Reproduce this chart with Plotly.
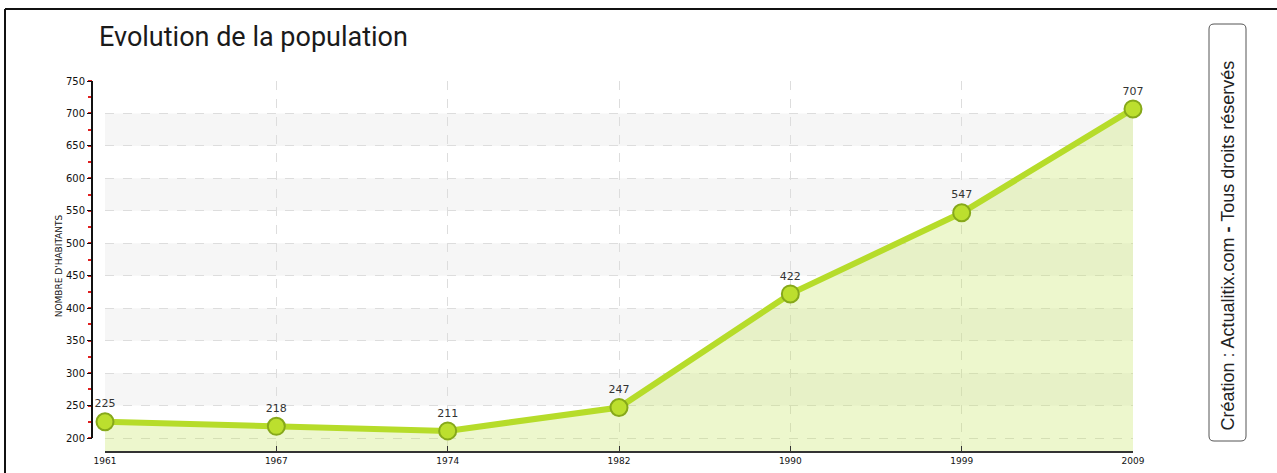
import plotly.graph_objects as go

years = ["1961", "1967", "1974", "1982", "1990", "1999", "2009"]
population = [225, 218, 211, 247, 422, 547, 707]
y_ticks = [200, 250, 300, 350, 400, 450, 500, 550, 600, 650, 700, 750]

W, H = 1277, 473
x_idx = list(range(len(years)))

fig = go.Figure()

fig.add_trace(go.Scatter(
    x=x_idx, y=population,
    mode="lines+markers+text",
    text=[str(v) for v in population],
    textposition="top center",
    textfont=dict(family="DejaVu Sans", size=11, color="#333333"),
    line=dict(color="#b6dc2a", width=6),
    marker=dict(size=17, color="#bcdf2e", line=dict(color="#86a81a", width=2)),
    fill="tozeroy",
    fillcolor="rgba(195,228,90,0.30)",
    cliponaxis=False,
    hoverinfo="skip",
))

shapes = []
# alternating background bands
for i in range(1, len(y_ticks) - 1, 2):
    shapes.append(dict(type="rect", xref="x", yref="y", x0=0, x1=len(years) - 1,
                       y0=y_ticks[i], y1=y_ticks[i + 1], fillcolor="#f6f6f6",
                       line=dict(width=0), layer="below"))
# y axis line (from first to last tick)
shapes.append(dict(type="line", xref="paper", yref="y", x0=92 / W, x1=92 / W,
                   y0=y_ticks[0], y1=y_ticks[-1], line=dict(color="#111111", width=2)))
# outer frame (top and left)
shapes.append(dict(type="line", xref="paper", yref="paper", x0=5 / W, x1=1.0,
                   y0=1 - 9 / H, y1=1 - 9 / H, line=dict(color="#111111", width=2)))
shapes.append(dict(type="line", xref="paper", yref="paper", x0=5 / W, x1=5 / W,
                   y0=0, y1=1 - 9 / H, line=dict(color="#111111", width=2)))
# credit box (rounded)
bx0, bx1 = 1209 / W, 1246 / W
by0, by1 = 1 - 441 / H, 1 - 24 / H
rx, ry = 5 / W, 5 / H
path = (f"M {bx0+rx},{by1} L {bx1-rx},{by1} Q {bx1},{by1} {bx1},{by1-ry} "
        f"L {bx1},{by0+ry} Q {bx1},{by0} {bx1-rx},{by0} L {bx0+rx},{by0} "
        f"Q {bx0},{by0} {bx0},{by0+ry} L {bx0},{by1-ry} Q {bx0},{by1} {bx0+rx},{by1} Z")
shapes.append(dict(type="path", xref="paper", yref="paper", path=path,
                   line=dict(color="#555555", width=1), fillcolor="rgba(0,0,0,0)"))

annotations = [
    dict(text="Evolution de la population", xref="paper", yref="paper",
         x=97 / W, y=1 - 37 / H, xanchor="left", yanchor="middle", showarrow=False,
         font=dict(family="Roboto, sans-serif", size=27, color="#1a1a1a")),
    dict(text="Création : Actualitix.com <b>-</b> Tous droits réservés", xref="paper", yref="paper",
         x=(bx0 + bx1) / 2, y=1 - 246 / H, textangle=-90, showarrow=False,
         xanchor="center", yanchor="middle",
         font=dict(family="Liberation Sans, Arial, sans-serif", size=18, color="#222222")),
]

fig.update_layout(
    width=W, height=H,
    autosize=False,
    margin=dict(l=0, r=0, t=0, b=0, pad=0, autoexpand=False),
    paper_bgcolor="white", plot_bgcolor="rgba(0,0,0,0)",
    showlegend=False,
    shapes=shapes,
    annotations=annotations,
    xaxis=dict(
        domain=[105 / W, 1133 / W],
        range=[0, len(years) - 1],
        tickmode="array", tickvals=x_idx, ticktext=years,
        tickfont=dict(family="DejaVu Sans", size=9, color="#111111"),
        showline=True, linecolor="#333333", linewidth=2,
        ticks="inside", ticklen=5, tickcolor="#333333",
        showgrid=True, gridcolor="#dddddd", griddash="dash", gridwidth=1,
        zeroline=False, fixedrange=True, automargin=False,
    ),
    yaxis=dict(
        domain=[(H - 451) / H, (H - 81) / H],
        range=[180, 750],
        anchor="free", position=92 / W,
        tickmode="array", tickvals=y_ticks,
        tickfont=dict(family="DejaVu Sans", size=10, color="#111111"),
        ticks="outside", ticklen=5, tickcolor="#111111", tickwidth=1,
        minor=dict(dtick=25, tick0=0, ticks="outside", ticklen=4, tickwidth=1.5,
                   tickcolor="#e02020", showgrid=False),
        showline=False,
        showgrid=True, gridcolor="#dddddd", griddash="dash", gridwidth=1,
        zeroline=False, fixedrange=True, automargin=False,
        title=dict(text="NOMBRE D'HABITANTS", standoff=0,
                   font=dict(family="DejaVu Sans", size=9, color="#111111")),
    ),
)

fig.write_html(
    "out.html",
    config={"responsive": False, "displayModeBar": False},
    post_script="document.body.style.margin='0';document.body.style.padding='0';document.body.style.overflow='hidden';",
)
